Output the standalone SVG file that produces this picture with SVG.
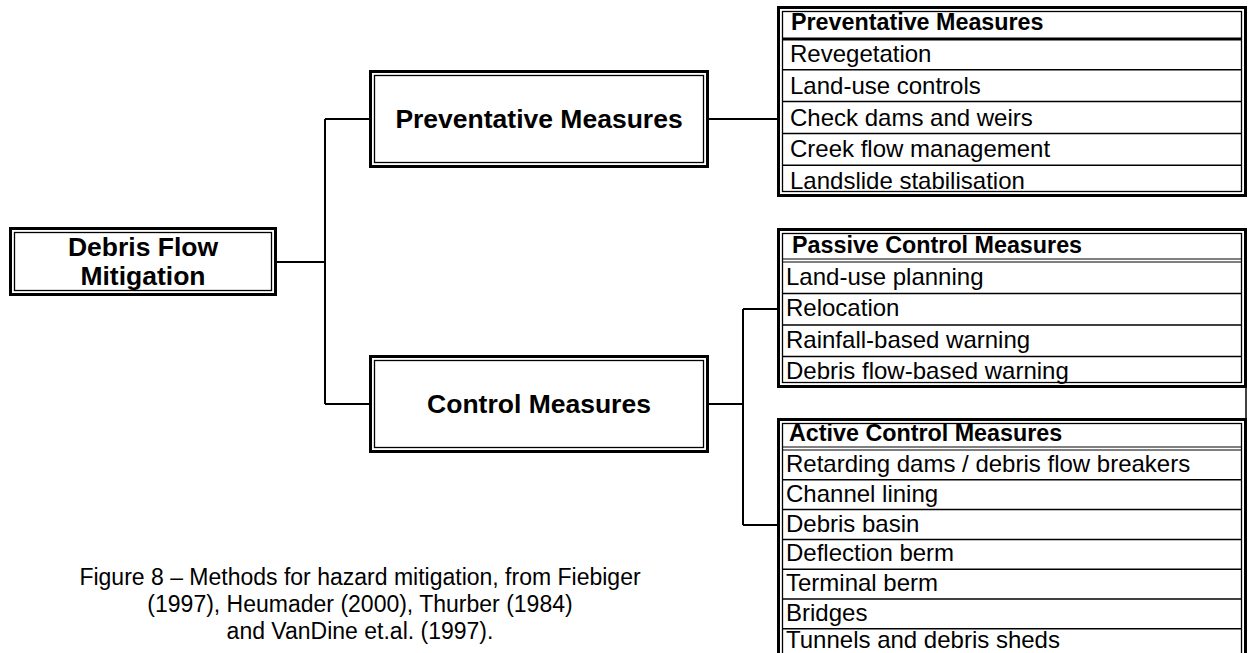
<svg xmlns="http://www.w3.org/2000/svg" width="1249" height="653" viewBox="0 0 1249 653">
<style>
.ob{fill:none;stroke:#000;stroke-width:3}
.ib{fill:none;stroke:#000;stroke-width:1.3}
.big{font-family:"Liberation Sans",Arial,sans-serif;font-weight:bold;font-size:26.5px;text-anchor:middle;fill:#000}
.hd{font-family:"Liberation Sans",Arial,sans-serif;font-weight:bold;font-size:23.3px;fill:#000}
.tx{font-family:"Liberation Sans",Arial,sans-serif;font-size:24px;fill:#000}
.cap{font-family:"Liberation Sans",Arial,sans-serif;font-size:23px;text-anchor:middle;fill:#000}
.conn{fill:none;stroke:#000;stroke-width:2}
.sep{stroke:#000;stroke-width:1.5}
.sepk{stroke:#000;stroke-width:3}
.sept{stroke:#000;stroke-width:1.2}
</style>
<rect width="1249" height="653" fill="#fff"/>
<g id="connectors">
<path class="conn" d="M277,262H325M325,119V404M325,119H369M325,404H369M709,119H777M709,404H743M743,309V525M743,309H777M743,525H777"/>
<path class="sep" d="M1246,388V418"/>
</g>
<g id="node-debris">
<rect class="ob" x="10.5" y="228.5" width="265" height="66"/>
<rect class="ib" x="14.5" y="232.5" width="257" height="58"/>
<text class="big" x="143" y="256">Debris Flow</text>
<text class="big" x="143" y="285">Mitigation</text>
</g>
<g id="node-preventative">
<rect class="ob" x="370.5" y="71.5" width="337" height="95"/>
<rect class="ib" x="374.5" y="75.5" width="329" height="87"/>
<text class="big" x="539" y="128">Preventative Measures</text>
</g>
<g id="node-control">
<rect class="ob" x="370.5" y="356.5" width="337" height="95"/>
<rect class="ib" x="374.5" y="360.5" width="329" height="87"/>
<text class="big" x="539" y="413">Control Measures</text>
</g>
<g id="table-preventative">
<rect class="ob" x="778.5" y="7.5" width="467" height="188"/>
<rect class="ib" x="782.5" y="11.5" width="459" height="180"/>
<line class="sepk" x1="782" y1="39" x2="1242" y2="39"/>
<line class="sep" x1="782" y1="69.8" x2="1242" y2="69.8"/>
<line class="sep" x1="782" y1="101.6" x2="1242" y2="101.6"/>
<line class="sep" x1="782" y1="133.4" x2="1242" y2="133.4"/>
<line class="sep" x1="782" y1="165.2" x2="1242" y2="165.2"/>
<text class="hd" x="791" y="30">Preventative Measures</text>
<text class="tx" x="790" y="62">Revegetation</text>
<text class="tx" x="790" y="94">Land-use controls</text>
<text class="tx" x="790" y="126">Check dams and weirs</text>
<text class="tx" x="790" y="157">Creek flow management</text>
<text class="tx" x="790" y="189">Landslide stabilisation</text>
</g>
<g id="table-passive">
<rect class="ob" x="778.5" y="229.5" width="467" height="157"/>
<rect class="ib" x="782.5" y="233.5" width="459" height="149"/>
<line class="sept" x1="782" y1="259" x2="1242" y2="259"/>
<line class="sept" x1="782" y1="262" x2="1242" y2="262"/>
<line class="sep" x1="782" y1="293.5" x2="1242" y2="293.5"/>
<line class="sep" x1="782" y1="325" x2="1242" y2="325"/>
<line class="sep" x1="782" y1="356.5" x2="1242" y2="356.5"/>
<text class="hd" x="792" y="253">Passive Control Measures</text>
<text class="tx" x="786" y="285">Land-use planning</text>
<text class="tx" x="786" y="316">Relocation</text>
<text class="tx" x="786" y="348">Rainfall-based warning</text>
<text class="tx" x="786" y="379">Debris flow-based warning</text>
</g>
<g id="table-active">
<rect class="ob" x="778.5" y="419.5" width="467" height="260"/>
<rect class="ib" x="782.5" y="423.5" width="459" height="252"/>
<line class="sept" x1="782" y1="447" x2="1242" y2="447"/>
<line class="sept" x1="782" y1="450" x2="1242" y2="450"/>
<line class="sep" x1="782" y1="479.8" x2="1242" y2="479.8"/>
<line class="sep" x1="782" y1="509.6" x2="1242" y2="509.6"/>
<line class="sep" x1="782" y1="539.4" x2="1242" y2="539.4"/>
<line class="sep" x1="782" y1="569.2" x2="1242" y2="569.2"/>
<line class="sep" x1="782" y1="599" x2="1242" y2="599"/>
<line class="sep" x1="782" y1="628.8" x2="1242" y2="628.8"/>
<text class="hd" x="789" y="441">Active Control Measures</text>
<text class="tx" x="786" y="472">Retarding dams / debris flow breakers</text>
<text class="tx" x="786" y="502">Channel lining</text>
<text class="tx" x="786" y="532">Debris basin</text>
<text class="tx" x="786" y="561">Deflection berm</text>
<text class="tx" x="786" y="591">Terminal berm</text>
<text class="tx" x="786" y="621">Bridges</text>
<text class="tx" x="786" y="648">Tunnels and debris sheds</text>
</g>
<g id="caption">
<text class="cap" x="360" y="585">Figure 8 – Methods for hazard mitigation, from Fiebiger</text>
<text class="cap" x="360" y="612">(1997), Heumader (2000), Thurber (1984)</text>
<text class="cap" x="360" y="639">and VanDine et.al. (1997).</text>
</g>
</svg>
